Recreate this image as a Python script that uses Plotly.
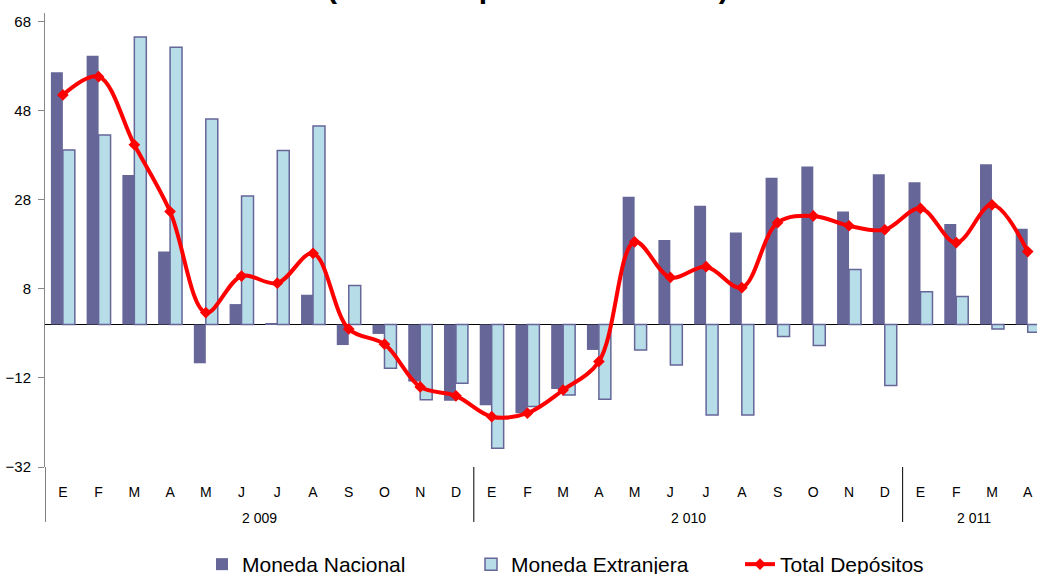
import plotly.graph_objects as go

months = ["E","F","M","A","M","J","J","A","S","O","N","D",
          "E","F","M","A","M","J","J","A","S","O","N","D",
          "E","F","M","A"]
years = ["2 009", "2 010", "2 011"]
year_centers = [5.5, 17.5, 25.5]
year_bounds = [-0.5, 11.5, 23.5]

moneda_nacional = [56.7, 60.4, 33.6, 16.4, -8.7, 4.6, 0.2, 6.7, -4.6, -2.1, -12.8, -17.1,
                   -18.1, -19.9, -14.5, -5.7, 28.7, 19.0, 26.7, 20.7, 33.0, 35.5, 25.4, 33.8,
                   32.0, 22.6, 36.0, 21.5]
moneda_extranjera = [39.2, 42.6, 64.6, 62.3, 46.2, 28.9, 39.1, 44.6, 8.8, -9.8, -16.9, -13.2,
                     -27.8, -18.4, -15.8, -16.8, -5.7, -9.1, -20.3, -20.3, -2.7, -4.7, 12.4, -13.7,
                     7.4, 6.3, -1.0, -1.7]
total_depositos = [51.6, 55.7, 40.4, 25.4, 2.7, 10.9, 9.3, 16.0, -1.0, -4.4, -14.0, -16.0,
                   -20.7, -19.9, -14.7, -8.3, 18.6, 10.6, 13.0, 8.3, 22.9, 24.4, 22.2, 21.3,
                   26.1, 18.4, 26.9, 16.4]
y_ticks = [-32, -12, 8, 28, 48, 68]

x = list(range(len(months)))
FONT = "Liberation Sans, Arial, sans-serif"

W, H = 1037, 574
L, R, T, B = 45, 0, 13, 107
PW = W - L - R
PH = H - T - B

fig = go.Figure()
fig.add_trace(go.Bar(x=x, y=moneda_nacional, name="Moneda Nacional",
                     marker=dict(color="#666699", line=dict(width=0))))
fig.add_trace(go.Bar(x=x, y=moneda_extranjera, name="Moneda Extranjera",
                     marker=dict(color="#B7DDE8", line=dict(color="#666699", width=1.5))))
fig.add_trace(go.Scatter(x=x, y=total_depositos, name="Total Depósitos",
                         mode="lines+markers",
                         line=dict(color="#FF0000", width=4, shape="spline", smoothing=1.0),
                         marker=dict(symbol="diamond", size=9, color="#FF0000")))

def py(pix):
    return (H - B - pix) / PH

def px(pix):
    return (pix - L) / PW

shapes = []
for b in year_bounds:
    shapes.append(dict(type="line", xref="x", yref="paper", x0=b, x1=b,
                       y0=0, y1=py(522), line=dict(color="#000000", width=1)))

annotations = []
for yl, xc in zip(years, year_centers):
    annotations.append(dict(x=xc, y=py(518), xref="x", yref="paper", text=yl,
                            showarrow=False, font=dict(size=14, color="#000000", family=FONT),
                            xanchor="center", yanchor="middle"))
annotations.append(dict(x=px(528), y=py(5), xref="paper", yref="paper",
                        text="<b>(Variación porcentual anual)</b>", showarrow=False,
                        font=dict(size=30, color="#000000", family=FONT),
                        xanchor="center", yanchor="bottom", borderpad=0))

fig.update_layout(
    width=W, height=H,
    margin=dict(l=L, r=R, t=T, b=B, autoexpand=False),
    paper_bgcolor="white", plot_bgcolor="white",
    barmode="group", bargap=0.33, bargroupgap=0,
    font=dict(family=FONT, color="#000000", size=14),
    showlegend=True,
    legend=dict(orientation="h", x=202 / W, xanchor="left", xref="container",
                y=(H - 544) / H, yanchor="top", yref="container",
                entrywidth=224, entrywidthmode="pixels",
                font=dict(size=21, family=FONT, color="#000000"),
                bgcolor="rgba(0,0,0,0)", traceorder="normal"),
    shapes=shapes, annotations=annotations,
    xaxis=dict(range=[-0.5, 27.26], tickmode="array", tickvals=x, ticktext=months,
               showgrid=False, zeroline=False, showline=False, automargin=False,
               ticks="outside", ticklen=12, tickcolor="rgba(0,0,0,0)",
               tickfont=dict(size=14, family=FONT, color="#000000")),
    yaxis=dict(range=[-32, 70], tickmode="array", tickvals=y_ticks, automargin=False,
               showgrid=False, zeroline=True, zerolinecolor="#000000", zerolinewidth=1,
               showline=True, linecolor="#888888", linewidth=1,
               ticks="outside", ticklen=6, tickcolor="#888888", ticklabelstandoff=4,
               tickfont=dict(size=15, family=FONT, color="#000000")),
)

fig.write_html("out.html", config={"displayModeBar": False},
               post_script="document.body.style.margin='0';document.body.style.overflow='hidden';")
